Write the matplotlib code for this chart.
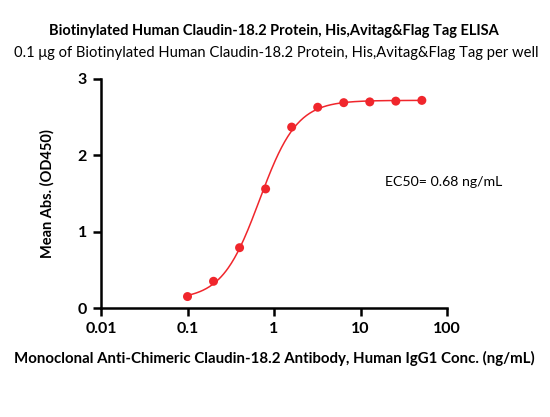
import numpy as np
import matplotlib
matplotlib.use("Agg")
import matplotlib.pyplot as plt
from matplotlib.ticker import FixedLocator, NullLocator

plt.rcParams['font.family'] = ['Lato', 'DejaVu Sans']

# ---- data ----
conc = [0.1, 0.2, 0.4, 0.8, 1.6, 3.2, 6.4, 12.8, 25.6, 51.2]
od450 = [0.15, 0.35, 0.79, 1.56, 2.37, 2.63, 2.69, 2.70, 2.71, 2.72]
ec50 = 0.68
x_ticks = [0.01, 0.1, 1, 10, 100]
x_tick_labels = ["0.01", "0.1", "1", "10", "100"]
y_ticks = [0, 1, 2, 3]
title = "Biotinylated Human Claudin-18.2 Protein, His,Avitag&Flag Tag ELISA"
subtitle = "0.1 \u03bcg of Biotinylated Human Claudin-18.2 Protein, His,Avitag&Flag Tag per well"
xlabel = "Monoclonal Anti-Chimeric Claudin-18.2 Antibody, Human IgG1 Conc. (ng/mL)"
ylabel = "Mean Abs. (OD450)"
ec50_text = "EC50= 0.68 ng/mL"

RED = "#f0262c"

# ---- 4PL fit (EC50 fixed) ----
x = np.array(conc)
y = np.array(od450)
best = None
for b in np.linspace(-0.2, 0.3, 51):
    for t in np.linspace(2.6, 2.8, 41):
        for h in np.linspace(1.0, 3.0, 81):
            pred = b + (t - b) / (1 + (ec50 / x) ** h)
            err = np.sum((pred - y) ** 2)
            if best is None or err < best[0]:
                best = (err, b, t, h)
_, B, T, H = best
xf = np.logspace(np.log10(min(conc)), np.log10(max(conc)), 300)
yf = B + (T - B) / (1 + (ec50 / xf) ** H)

W, Hh = 550, 417
fig = plt.figure(figsize=(5.5, 4.17), dpi=100)
ax = fig.add_axes([101 / W, 1 - 308 / Hh, (447 - 101) / W, (308 - 79) / Hh])

ax.plot(xf, yf, color=RED, lw=1.1, zorder=2)
ax.scatter(conc, od450, s=42, color=RED, zorder=3, edgecolors='none', clip_on=False)

ax.set_xscale('log')
ax.set_xlim(0.01, 100)
ax.set_ylim(0, 3)
ax.xaxis.set_major_locator(FixedLocator(x_ticks))
ax.xaxis.set_minor_locator(NullLocator())
ax.set_xticklabels(x_tick_labels)
ax.set_yticks(y_ticks)

for s in ['top', 'right']:
    ax.spines[s].set_visible(False)
for s in ['left', 'bottom']:
    ax.spines[s].set_linewidth(1.8)
ax.tick_params(axis='both', width=1.8, length=6, labelsize=11.5, pad=4)
for lab in ax.get_xticklabels() + ax.get_yticklabels():
    lab.set_fontweight('bold')

ax.set_ylabel(ylabel, fontsize=10.5, fontweight='bold', labelpad=17)
fig.text((101 + 447) / 2 / W, 1 - 358 / Hh, xlabel, ha='center', va='center',
         fontsize=10.8, fontweight='bold')
fig.text((101 + 447) / 2 / W, 1 - 31 / Hh, title, ha='center', va='center',
         fontsize=10.5, fontweight='bold')
fig.text((101 + 447) / 2 / W + 0.005, 1 - 53 / Hh, subtitle, ha='center', va='center',
         fontsize=10.6)
fig.text(385 / W, 1 - 182 / Hh, ec50_text, ha='left', va='center', fontsize=10.2)

fig.savefig("out.png", dpi=100)
